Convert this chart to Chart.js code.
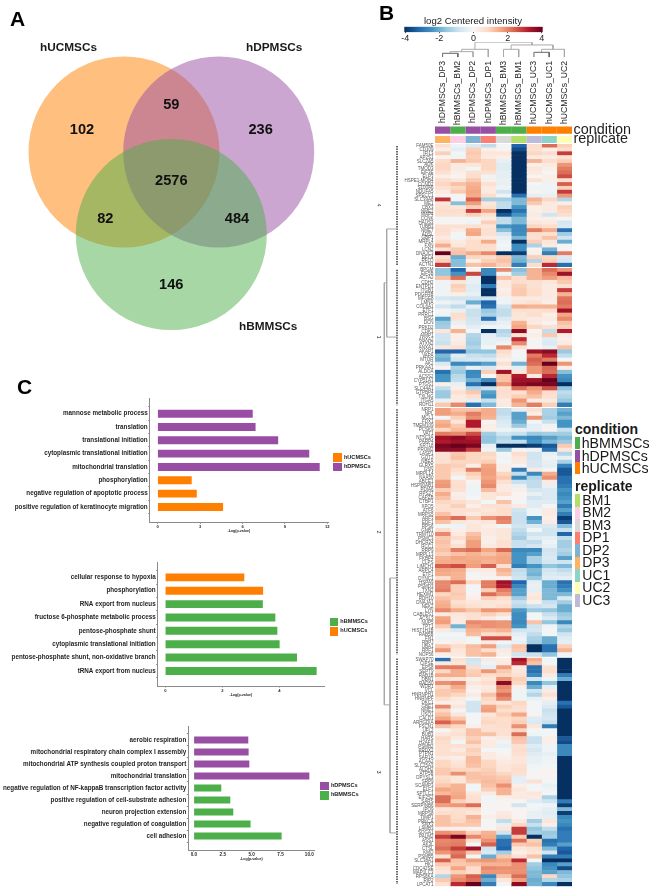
<!DOCTYPE html>
<html>
<head>
<meta charset="utf-8">
<title>MSC proteomics figure</title>
<script src="https://cdn.jsdelivr.net/npm/chart.js@4/dist/chart.umd.js"></script>
<style>
    html, body { margin: 0; padding: 0; background: #fff; }
    #page { position: relative; width: 652px; height: 895px; overflow: hidden; font-family: "Liberation Sans", Arial, sans-serif; color: #1a1a1a; }
    #page canvas { position: absolute; }
    .txt { position: absolute; white-space: nowrap; line-height: 1; }
    .swatch { position: absolute; }
</style>
</head>
<body>
<div id="page"></div>
<script>
// ---- panel A: venn counts ----
const vennNames = ["hUCMSCs", "hDPMSCs", "hBMMSCs"];
const vennCounts = [102, 59, 236, 2576, 82, 484, 146];

// ---- panel C: enrichment bars, top to bottom ----
const bars1Labels = ["mannose metabolic process", "translation", "translational initiation", "cytoplasmic translational initiation", "mitochondrial translation", "phosphorylation", "negative regulation of apoptotic process", "positive regulation of keratinocyte migration"];
const bars1Values = [6.7, 6.9, 8.5, 10.7, 11.44, 2.38, 2.74, 4.6];
const bars1Groups = ["hDPMSCs", "hDPMSCs", "hDPMSCs", "hDPMSCs", "hDPMSCs", "hUCMSCs", "hUCMSCs", "hUCMSCs"];
const bars1Ticks = [0, 3, 6, 9, 12];

const bars2Labels = ["cellular response to hypoxia", "phosphorylation", "RNA export from nucleus", "fructose 6-phosphate metabolic process", "pentose-phosphate shunt", "cytoplasmic translational initiation", "pentose-phosphate shunt, non-oxidative branch", "tRNA export from nucleus"];
const bars2Values = [2.76, 3.42, 3.41, 3.85, 3.92, 4.0, 4.61, 5.3];
const bars2Groups = ["hUCMSCs", "hUCMSCs", "hBMMSCs", "hBMMSCs", "hBMMSCs", "hBMMSCs", "hBMMSCs", "hBMMSCs"];
const bars2Ticks = [0, 2, 4];

const bars3Labels = ["aerobic respiration", "mitochondrial respiratory chain complex I assembly", "mitochondrial ATP synthesis coupled proton transport", "mitochondrial translation", "negative regulation of NF-kappaB transcription factor activity", "positive regulation of cell-substrate adhesion", "neuron projection extension", "negative regulation of coagulation", "cell adhesion"];
const bars3Values = [4.68, 4.71, 4.77, 9.97, 2.34, 3.12, 3.38, 4.88, 7.57];
const bars3Groups = ["hDPMSCs", "hDPMSCs", "hDPMSCs", "hDPMSCs", "hBMMSCs", "hBMMSCs", "hBMMSCs", "hBMMSCs", "hBMMSCs"];
const bars3Ticks = [0, 2.5, 5, 7.5, 10];

// ---- panel B: heatmap columns and annotation ----
const sampleNames = ["hDPMSCs_DP3", "hBMMSCs_BM2", "hDPMSCs_DP2", "hDPMSCs_DP1", "hBMMSCs_BM3", "hBMMSCs_BM1", "hUCMSCs_UC3", "hUCMSCs_UC1", "hUCMSCs_UC2"];
const sampleCondition = ["hDPMSCs", "hBMMSCs", "hDPMSCs", "hDPMSCs", "hBMMSCs", "hBMMSCs", "hUCMSCs", "hUCMSCs", "hUCMSCs"];
const sampleReplicate = ["DP3", "BM2", "DP2", "DP1", "BM3", "BM1", "UC3", "UC1", "UC2"];
const conditionNames = ["hBMMSCs", "hDPMSCs", "hUCMSCs"];
const replicateNames = ["BM1", "BM2", "BM3", "DP1", "DP2", "DP3", "UC1", "UC2", "UC3"];
const colorbarTicks = [-4, -2, 0, 2, 4];

// column tree: left x, left height, right x, right height, top height
const topDendroMerges = [
    [0.5, 0, 1.5, 0, 12],
    [1, 12, 2.5, 0, 17],
    [1.75, 17, 3.5, 0, 24],
    [4.5, 0, 5.5, 0, 24],
    [6.5, 0, 7.5, 0, 15],
    [7, 15, 8.5, 0, 24],
    [5, 24, 7.75, 24, 37],
    [2.625, 24, 6.375, 37, 45]
];
// row tree: [height, row position] polylines
const rowDendroLines = [
    [[1, 21.3], [11.3, 21.3], [11.3, 48.4], [1, 48.4]],
    [[11.3, 34.8], [13.7, 34.8], [13.7, 140.6], [8, 140.6]],
    [[1, 108.8], [8, 108.8], [8, 172.7], [1, 172.7]]
];
const rowDendroTrunks = [
    [[1, 0.5], [1, 30.5]],
    [[1, 31.5], [1, 65.5]],
    [[1, 66.5], [1, 128]],
    [[1, 129], [1, 185.5]]
];

const cluster4Genes = ["FAM50E", "CD109", "IFI13", "AP2S1", "SLC7A5", "ADK", "TMOD3", "EIF3E", "ELP3", "HSPE1-MOB4", "CCND2", "S100A6", "NDUFA5", "SPECC1", "SLC39A8", "ME1", "CBX3", "NME2", "MAP4", "CCNK", "HAUS3", "TUBB3", "NME7", "ADSL", "GBP1", "MRPL4", "FXN", "LCN2", "DNAJC3", "RFC4", "RFLO", "ACTN1"];
const cluster4Rows = [
    [.5, -.2, -.6, -1, -.1, -3.2, .6, 2.2, .8],
    [.2, -.4, .8, .2, .1, -3.6, .5, .2, .6],
    [.8, -.1, .9, .4, .4, -4, .7, .6, 2.8],
    [.1, -.2, .8, .3, .2, -4, .3, .3, .5],
    [.6, 1.2, .9, .7, -.3, -4, 1.2, .6, .8],
    [.7, .3, .4, .7, -.5, -4, .2, .3, 1.6],
    [.7, .3, -.1, .7, -.5, -4, .4, .2, 2],
    [.5, .2, .5, .5, -.4, -4, .3, .1, 2.2],
    [.2, .1, .6, -.2, -.4, -4, .1, .2, 2.6],
    [.6, .4, .9, .2, -.3, -4, .5, .2, .5],
    [.7, 1, 1.2, .5, -.3, -4, -.1, -.2, 2.4],
    [.5, .7, 1.3, .3, -.2, -4, -.2, -.2, .8],
    [.3, .9, 1.4, .3, -.8, -4, .1, -.2, 2.8],
    [.1, -.1, 1.3, .6, -.2, -3, -.4, -.3, 1.6],
    [2.9, .1, 2.4, -1.4, -1.4, -1.8, 1.2, .7, -1.2],
    [.4, -1.7, 1.5, .4, -1, -1.8, .9, .3, .2],
    [.5, .4, .8, .5, -1, -2.4, .2, .3, .8],
    [.6, .6, 2.8, 1.4, -4, -3, .2, .3, .7],
    [.5, .5, .8, .5, -3.4, -2.4, .3, -.8, .6],
    [-.1, -.1, -.1, .3, -1, -1.8, .2, .2, -.1],
    [.1, .1, -.2, .8, -1, -1.8, .4, .3, -.7],
    [.5, .5, .5, .4, -2.4, -2.6, .7, .6, -.6],
    [.6, .3, 1.3, .5, -1.7, -2.6, 2, 1.3, -3],
    [.5, -.1, 1.4, .5, -.7, -2.5, .6, .5, -1.4],
    [.3, -.1, .4, .3, -.3, -1.8, .5, 1, -.8],
    [.6, .3, .6, 1.3, -.2, -4, .8, .4, -2],
    [1.3, .4, .6, .6, -.1, -2.5, -1.3, .3, -.1],
    [.5, .9, .6, .5, -.2, -2.5, .1, -1.9, .1],
    [4, 1, 1.3, 1.8, -4, -3.8, .2, -2.8, 2],
    [.6, -2, .7, .6, .9, -1.8, .8, .7, -.6],
    [.8, -1.7, .2, .8, 1, -1.9, -1.2, .8, -.7],
    [2.8, -1.7, 1, 1.2, .8, -2.8, .6, 3, -3]
];

const cluster1Genes = ["BPGM", "EIF5B", "ACTA2", "CDH2", "ENTPD1", "ITGB1", "PDGFRB", "MFGE8", "LMNA", "COL6A1", "ETF1", "PRRC1", "BSG", "DCN", "PRKD2", "CDK1", "AIMP1", "ANXA2", "ATXN2", "ANXA1", "AKAP1", "VAPA", "MTOR", "AK2", "PRKAA1", "ALDOA", "ACSS2", "CYP51A1", "PTGS1", "SLC44A1", "GTPBP4", "TXLNG", "ITGA5", "RDH11"];
const cluster1Rows = [
    [-1.6, -3.2, .1, -2.6, 1.8, -1.7, 1.2, 2.2, 1.6],
    [-1.6, -2.4, 2.7, -2.6, -.1, -1.4, 1.2, 1.8, 3.4],
    [1, 2.2, -.3, -4, 1, .6, 1.2, 1.5, 1.1],
    [-.2, .4, -.3, -4, .3, .6, .5, .4, .9],
    [-.2, .8, -.5, -2.8, .3, .8, .5, .3, .5],
    [-.2, .7, -.5, -4, .2, .9, .6, .3, 2.8],
    [-.2, .2, -.3, -4, .3, .9, .6, .3, 1.2],
    [-.7, -.8, -.8, -.8, -.2, .3, .3, .3, 2.1],
    [-.2, -.4, -2, -3.2, -.2, .4, .5, .2, 2.2],
    [-.7, -1, -.4, -3, -.8, 1.3, 1.2, 1.2, 2],
    [-.1, -.3, -.9, -1.5, -1, .5, .5, .6, 3.4],
    [-.2, .6, -.9, -1.3, -1, .4, .6, .2, 1.4],
    [-2.2, .5, -.8, -3, -.6, .4, .3, .3, 1.8],
    [-1.5, -.3, -.7, -.6, -.3, 1.2, .3, .1, 1],
    [-1.4, .1, -.4, -.1, -.2, 1.4, .7, .5, .8],
    [.4, 1.2, -.1, -4, -1.2, 3.6, .1, -1, 3.2],
    [-.8, .2, -1.2, -.4, -1, .5, .2, .9, .3],
    [-.8, .2, -1.3, -.3, -.4, 3, .1, -.5, .2],
    [-.9, .3, -1.4, -.3, -.2, 1.8, -.1, -.6, .3],
    [.4, .5, -1.2, -.1, 1.8, .5, .1, -.3, 1],
    [-3.2, -3.2, -1.6, -1.6, .6, -.1, 3.4, 3.6, -1.5],
    [-1.8, -.5, -.9, -1, .4, -.1, 2, 3, -1],
    [-2, -.8, -.7, -.6, .2, -.2, 2.4, 2, -.1],
    [-.6, -2.6, -2.5, -2.2, .5, -1.9, 2.2, 4, 1.6],
    [.1, -1.3, -.3, -.6, .2, -.4, 1.6, 2.3, .2],
    [-3, -1.5, -2.6, .8, 3.4, .4, 1.6, 2.2, -1.7],
    [-2.4, -1.1, -2.5, .1, 1, 3.2, .3, 3, -2.4],
    [-2.4, -1, -1.9, -2.5, 1, 3.4, 3.4, 4, -2.6],
    [.2, -.3, -3, -4, 1.6, 3.6, 3.8, 3.8, -4],
    [-1, .2, -1.2, -.9, .5, 2.2, 1.6, 2.6, -1.6],
    [-1.5, .5, .9, -2.2, .6, .5, 1.3, .6, -1],
    [-1.5, .3, .5, -2.4, .5, .8, 1, .5, -1.2],
    [-.3, .3, -.4, -.9, .3, 1.6, .3, .3, -1.5],
    [.9, 1.8, -3, -1.8, .3, 1.2, 2, .8, -2.8]
];

const cluster2Genes = ["NRP1", "NPL", "MCL1", "FDX1", "TMEM109", "PCSK9", "VAT1", "NT5C3A", "PARP4", "KRT18", "PROM2", "LASP1", "GOT2", "NBEA", "GLRX5", "GSN", "MRPL14", "NAA50", "ABCE1", "HSP90AB1", "PDIA6", "RPS27", "CAPZB", "CTBP1", "XPO5", "ATF6", "MRPS5", "ARF3", "EDF1", "RPS6", "GNB1", "TRMT10", "PSMC3", "DHCR24", "RCC1", "RRP9", "MRPL13", "FKBP4", "CLPS", "LIMCH1", "ARPC4", "ETF1", "DYNC1", "HSPA9", "PSMD3", "TXN2", "HEXIM1", "RDH10", "DNAJA1", "NEK2", "LYN", "CABLES1", "ACSL3", "NUP5", "TPT1", "HIST1H1B", "RAB5B", "FN1", "RBPJ", "UBA1", "RPF1", "NOP56"];
const cluster2Rows = [
    [1.5, 1, 1, 1.3, -1, -.4, .5, -1.3, -1.9],
    [1.5, 1.3, 2, 1.3, -1, -2.2, .2, -1.3, -2.2],
    [-.1, .8, 1.7, 1.2, -.8, -2.2, 1.6, -1.4, -1.8],
    [1.2, .4, 3.2, .1, -.6, -2, -.1, -.9, -2.4],
    [1.4, .9, 3.2, .2, -.5, -1.5, -.4, -.2, -2.4],
    [.7, 1.1, 1, .2, -.2, -.3, -.4, .1, -.9],
    [2, 1.8, 2.6, -1.4, -.8, -.9, -1.5, -1.4, -1.4],
    [3.4, 3.6, 3.2, -1.6, -1.2, -2.4, -2.6, -2.2, -1.8],
    [3.2, 3.4, 3.4, -1.6, -1, -1, -2.4, -1.8, -1.5],
    [3.8, 4, 3.8, -.3, -4, -4, -3.8, -3.4, .9],
    [3.6, 3.6, 2.8, -.2, -1.5, -.1, -.2, -3, .4],
    [.5, .9, .7, .7, -.1, .6, -.8, -.3, -1.2],
    [.5, 1, .7, .6, -.2, .4, -.8, -.2, -.3],
    [.5, .7, .7, .8, -.1, .3, -.7, -.3, -1.3],
    [.9, .8, .2, 1.4, .2, .1, -.7, -.4, -2.7],
    [.9, .6, 2, 1.5, .2, -2.8, .3, -.1, -3.4],
    [.9, .4, .8, 1.5, .7, -1, -2.6, 1.3, -3.4],
    [.9, -.1, .6, 1.4, .9, -2.6, -1.2, 1.7, -3],
    [1.5, .5, .1, 1.6, .5, -.9, -1, .3, -3],
    [1.6, .6, -.2, 1.8, .3, -.3, -1, -.3, -2.8],
    [.8, .5, -.2, 1.1, .3, .2, -.7, -.6, -2.4],
    [1.3, .2, -.2, .4, .5, .1, -.3, -.6, -2.6],
    [1, .3, -.1, .4, .1, .1, -.8, -.6, -2.4],
    [.7, .6, .4, -.1, 1, -.1, -.5, -.5, -2.2],
    [.5, .8, .2, .5, .5, .3, -.5, -.1, -2.8],
    [.6, .5, .5, .4, .6, -.8, -.2, .3, -2.2],
    [1, .5, .3, .5, .6, -.9, -.2, .3, -2.8],
    [1.6, 2.2, .9, 1.7, 2, -.9, -2.4, .2, -3.8],
    [1, .4, .3, .4, 1.8, -.9, -1.9, .3, -3.4],
    [-.1, -.2, .4, .2, -.1, -.8, -.6, -.6, -1.7],
    [.6, .2, .4, .3, .4, -1, -.1, -.8, -.9],
    [1.8, .3, 1, .3, .4, -1.2, -.8, -.8, -3.2],
    [.9, .6, 1.2, .2, .4, -1.4, -.5, -.4, -1],
    [1, .3, 1.5, .2, .5, -.9, -1, -.2, -1.4],
    [.9, .5, 1.5, .3, .5, -.9, -.7, -.3, -1.4],
    [1, 2, 2.2, 1.4, 2.3, -2.6, -2.6, -.8, -1.2],
    [.8, 1, 1.2, 1, 1.3, -2.4, -2.2, -.7, -1.4],
    [1.2, 1.4, 1.3, 1.3, 1.4, -2.4, -1.3, -.6, -2.2],
    [1.3, 1.3, 1.4, 1.2, 1.4, -2.4, -1.3, -.7, -.8],
    [2.4, 2.6, 1.5, 2.4, .5, -2.8, -2.4, -1.6, -1.8],
    [1.4, 1.3, .3, .3, 1.2, -1, -1.8, -.8, -1],
    [1.3, 1.2, -.1, .2, 1, -.9, -1.9, -.6, -.7],
    [.5, 1.2, .1, .1, .1, -.8, -1.5, -.5, -.4],
    [1.8, 2.2, .7, 2, 3.4, -3.2, -.4, -2, -3],
    [1.8, .8, -.1, 2, 3.2, -2.6, -.3, -2, -2.8],
    [2, .8, -.1, .8, 2, -2.2, -.4, -1.8, -2.4],
    [.7, .9, .1, 2.2, 1.6, -2.2, .3, -1.8, -1.8],
    [1, .8, .2, .8, .6, -1.4, .4, -1.8, -.6],
    [1.2, .5, .4, .4, .4, -.9, .2, -.9, -1.4],
    [1.3, .7, .5, .4, .6, -1.1, -.9, -.7, -2],
    [1.8, 1.3, 1, 1.6, 1.5, -2.3, -1.5, -1.6, -2],
    [.3, .4, .5, .8, .5, -2.5, -.1, -.9, -1.5],
    [1.4, .3, .5, .3, -.1, -2.5, -.1, -.6, -1.3],
    [1.5, .3, 1.8, 1.7, 1.6, -2.6, 1, -1.6, -2.6],
    [.9, -1.9, 1.5, 1.7, 1.6, -2.4, -.8, -.2, -1.2],
    [.3, -.6, 1.2, 1.1, 1.2, -.8, -.7, -.1, -1.5],
    [-.1, -.1, 1.1, .6, .7, -.4, -1, -.1, -.8],
    [-.2, -.2, -.1, 2.6, 2.6, -.2, -1.3, -2, -.5],
    [.1, .2, -.1, .3, -.1, -.3, -1.4, -2, -.4],
    [.9, .6, 1.1, 1.5, -.6, 1, -4, -3, .8],
    [1.6, .4, 1, .6, .3, .9, -4, -3, 1.2],
    [.2, .3, 1, 1.2, .2, -.8, -.9, -1.6, -.2]
];

const cluster3Genes = ["SWAP70", "CIPSE", "EPS8", "SEPT9", "RAB1B", "DBN1", "RAD50", "WDR1", "VCL", "HNRNPH1", "HNRNPF", "DKC1", "GBE1", "NME1", "USO1", "CALD1", "ARHGDIA", "FSCN1", "UFL2", "BUB3", "HARS", "H2AFX", "PSMB2", "PRDX2", "PTPN1", "SAR1A", "ACAA2", "SLC25A3", "ALDH2", "ATP5B", "DPYSL3", "SRP9", "SCAMP3", "ELF1", "SPTLC1", "EIF2S2", "SARS", "SERPINB6", "IPO9", "MRPS8", "TIMP1", "PRKCA", "SNX3", "LAMB3", "SOGA1", "PALM2", "ASS1", "AK3L", "CTSL", "KMO", "PSMB5", "SLC38A1", "HK1", "CDC42SE", "MAP1LC3", "RPS6KA", "RIP2", "LPCAT1"];
const cluster3Rows = [
    [-3, .5, -.8, .3, .2, 3.4, 1.3, -.1, -4],
    [.3, .4, -.7, -.2, .3, 3, 1, -.1, -4],
    [2, 2, .6, -.4, 1.5, .3, -3, .5, -4],
    [.7, 1.3, .8, 1.6, .9, .4, -3, .6, -4],
    [1.3, 1.3, .9, .6, .7, .5, -2.6, .3, -2.8],
    [.5, .4, .2, .4, 1.6, .8, -.8, -.2, -2],
    [1.7, 1.9, .4, .6, 3.6, .7, -2.6, -1.6, -4],
    [.7, 1.3, .2, .3, 1.8, .2, -2, -.4, -4],
    [.9, 1, .1, .4, 1.6, -.2, -.8, .3, -4],
    [.9, .7, .3, 1, 2.2, -.2, -1.2, .5, -4],
    [.6, .3, -.1, .7, 1.8, -.2, -.3, .2, -4],
    [.2, .2, -.8, .5, .4, .7, -.1, -.4, -3],
    [1.8, .4, -.8, 1.4, .8, .6, -.1, -.6, -3.4],
    [.7, -.1, -.8, 1.5, .6, .5, -.1, -.9, -4],
    [1, .4, -.1, .4, .8, 1.4, .1, -.8, -4],
    [1.4, .9, -.1, .6, .6, .7, -.5, -.7, -4],
    [2.4, 1.6, -.1, .7, .6, .8, -.6, -.9, -4],
    [1, .7, .2, .5, .6, 1.7, .4, -2.8, -4],
    [-.1, .4, 1, .5, .5, .7, -.1, -.1, -4],
    [.4, .5, 1, 1, .5, 2.2, -.2, -.1, -4],
    [.7, .3, .8, .2, .3, 1, -.9, .2, -3.4],
    [.6, -.1, 1, .3, -.2, .9, -.9, .2, -3.6],
    [.5, .5, .6, .3, -.3, .5, -.5, -.2, -2.6],
    [.5, .3, .8, -.1, -.1, .6, -.7, -.2, -2.6],
    [.5, .5, .7, .3, .1, .5, -.5, -.3, -2.6],
    [.3, .2, 1.1, .3, .2, .4, -.3, -.2, -4],
    [.7, .4, 1.1, .7, .3, .4, -.3, -.2, -4],
    [.7, .5, 1, .7, .4, .5, -.2, -.1, -4],
    [.9, .7, .7, .8, .4, .6, -.1, .1, -4],
    [.9, 1.7, 1, .9, .7, .5, .1, .1, -4],
    [.6, .4, 1, 1, .9, -.4, -.1, .1, -4],
    [.7, .4, .9, 1.1, 1, -.4, .5, -.1, -4],
    [.9, 1.2, -.1, 1, 1.7, .2, -.1, -.3, -4],
    [1.4, 1.2, -.1, .8, 1.2, .4, -.1, -.2, -4],
    [1.1, 1.3, .4, .3, 1.2, .3, .4, -.1, -4],
    [2.2, 1.4, .5, -.1, .2, .3, .3, -1.3, -4],
    [2.2, .8, .5, -.1, .1, .1, -.5, -.8, -2.8],
    [1.5, 1.6, 2.2, .1, .1, -.8, -.1, -.2, -3.8],
    [.4, .5, .6, -.1, .1, .1, -.2, -.4, -1.8],
    [.6, .6, .4, .1, .3, .1, -.3, -.5, -3.8],
    [1, .6, 1.2, .2, .4, .1, -.3, -.4, -2.6],
    [1, .7, 1, -.1, -1, .3, -1.4, .4, -2.4],
    [1, .9, .9, -.1, -.3, .7, -.9, .2, -2.6],
    [.2, .2, .1, .1, .4, 2.8, -1.6, -1, -3],
    [1.7, 1.5, .8, 1.2, -.8, 2.8, -1.4, -1.5, -2.8],
    [2.8, 3.8, 1.8, 1.3, -2.2, .9, -4, -1.4, -2.8],
    [1.8, 1.9, .6, 1.7, -3, 2.2, .8, -3, -2.8],
    [1.9, 2, -.1, 2.4, -3, .9, 1, -2.8, -2.2],
    [2.2, 2.8, 3.4, -.8, -3.2, .4, .5, -1.8, -3.2],
    [1.6, 2, 1, -.6, -1.4, .2, .4, -.8, -3.4],
    [.5, 2.3, -.1, -2, .9, .5, 1, -2.8, -2.8],
    [2.4, 1, 1.5, 1.6, 1.4, 3, -.1, -4, -4],
    [.9, .9, 1, 1.2, 1.2, 1.7, -1.4, -2.6, -2.2],
    [.5, 1.4, .6, 1.8, 1.7, 1.7, -1.6, -2.4, -3.6],
    [.4, .8, .6, 1.6, 1.6, 1.7, -1.8, -2.2, -1.8],
    [-1.2, 1.6, 2.4, -2.6, 1, 2.2, -1.8, .7, -1.6],
    [.9, 1.8, 2.2, -2, .4, 1.5, -2, -1.2, -1.3],
    [.5, 3, 4, -2.8, -.1, 3.6, -1.9, -2.6, -4]
];

// ---- colours ----
const GROUP_COLORS = { hUCMSCs: "#FF7F00", hDPMSCs: "#984EA3", hBMMSCs: "#4DAF4A" };
const VENN_FILLS = { hUCMSCs: "rgba(255,127,0,0.5)", hDPMSCs: "rgba(152,78,163,0.5)", hBMMSCs: "rgba(77,175,74,0.5)" };
const REPLICATE_COLORS = { BM1: "#B3DE69", BM2: "#FCCDE5", BM3: "#D9D9D9", DP1: "#FB8072", DP2: "#80B1D3", DP3: "#FDB462", UC1: "#8DD3C7", UC2: "#FFFFB3", UC3: "#BEBADA" };
const RDBU = [[5, 48, 97], [33, 102, 172], [67, 147, 195], [146, 197, 222], [209, 229, 240], [247, 247, 247], [253, 219, 199], [244, 165, 130], [214, 96, 77], [178, 24, 43], [103, 0, 31]];
const RDBU_STOPS = [-4, -3.2, -2.4, -1.6, -0.8, 0, 0.65, 1.4, 2.4, 3.2, 4];
const INK = "#1f1f1f";
const AXIS_GREY = "#8a8a8a";

const page = document.getElementById("page");

function heatColor(value) {
    const v = Math.max(-4, Math.min(4, value));
    let low = 0;
    while (low < RDBU.length - 2 && v > RDBU_STOPS[low + 1]) low++;
    const t = (v - RDBU_STOPS[low]) / (RDBU_STOPS[low + 1] - RDBU_STOPS[low]);
    const mix = RDBU[low].map((c, i) => Math.round(c + (RDBU[low + 1][i] - c) * t));
    return `rgb(${mix[0]},${mix[1]},${mix[2]})`;
}

function addCanvas(left, top, width, height) {
    const canvas = document.createElement("canvas");
    canvas.width = width;
    canvas.height = height;
    canvas.style.left = left + "px";
    canvas.style.top = top + "px";
    canvas.style.width = width + "px";
    canvas.style.height = height + "px";
    page.appendChild(canvas);
    return canvas;
}

function addText(text, x, y, size, options = {}) {
    const el = document.createElement("div");
    el.className = "txt";
    el.textContent = text;
    el.style.left = x + "px";
    el.style.top = y + "px";
    el.style.fontSize = size + "px";
    if (options.bold) el.style.fontWeight = "bold";
    if (options.color) el.style.color = options.color;
    const shiftX = options.center ? "-50%" : "0";
    el.style.transform = `translate(${shiftX}, -50%)` + (options.rotate ? ` rotate(${options.rotate}deg)` : "");
    page.appendChild(el);
}

function addSwatch(color, x, y, width, height) {
    const el = document.createElement("div");
    el.className = "swatch";
    el.style.cssText = `left:${x}px;top:${y}px;width:${width}px;height:${height}px;background:${color}`;
    page.appendChild(el);
}

// fixes the axis thickness so the plot area lands where the layout wants it
function pinAxis(size) {
    return (scale) => {
        if (scale.isHorizontal()) {
            scale.height = size;
        } else {
            scale.width = size;
        }
        scale.paddingLeft = scale.paddingRight = scale.paddingTop = scale.paddingBottom = 0;
    };
}

const BASE_OPTIONS = {
    responsive: false,
    animation: false,
    plugins: { legend: { display: false }, tooltip: { enabled: false }, title: { display: false } }
};
const NO_GRID = { display: false, drawTicks: false };

// ---- panel A ----
function drawVenn() {
    const centres = [[124, 152], [218.7, 152], [171.3, 234.5]];
    const canvas = addCanvas(0, 0, 340, 370);
    new Chart(canvas, {
        type: "bubble",
        data: {
            datasets: vennNames.map((name, i) => ({
                label: name,
                data: [{ x: centres[i][0], y: centres[i][1], r: 95.5 }],
                backgroundColor: VENN_FILLS[name],
                borderWidth: 0,
                clip: false,
                order: vennNames.length - i // green has to end up on top
            }))
        },
        options: {
            ...BASE_OPTIONS,
            layout: { padding: 0, autoPadding: false },
            scales: {
                x: { type: "linear", min: 0, max: 340, display: false },
                y: { type: "linear", min: 0, max: 370, reverse: true, display: false }
            }
        }
    });

    const namePos = [[40, 48], [246, 48], [239, 327]];
    vennNames.forEach((name, i) => addText(name, namePos[i][0], namePos[i][1], 11.8, { bold: true }));
    const countPos = [[82, 128.7], [171.3, 104], [260.7, 128.7], [171.3, 180.3], [105.3, 218.3], [237, 218.3], [171.3, 283.7]];
    vennCounts.forEach((count, i) => addText(String(count), countPos[i][0], countPos[i][1], 14.6, { bold: true, center: true, color: "#111" }));
}

// ---- panel C ----
function drawBars(labels, values, groups, ticks, box) {
    const plotH = box.bottom - box.top;
    const canvas = addCanvas(0, Math.floor(box.top) - 8, Math.ceil(box.right) + 10, Math.ceil(plotH) + 8 + box.axisHeight + 2);
    const padTop = box.top - (Math.floor(box.top) - 8);
    new Chart(canvas, {
        type: "bar",
        data: {
            datasets: [{
                data: values.map((value, i) => ({ x: value, y: i })),
                backgroundColor: groups.map((g) => GROUP_COLORS[g]),
                barThickness: box.barHeight,
                borderWidth: 0
            }]
        },
        options: {
            ...BASE_OPTIONS,
            indexAxis: "y",
            layout: { padding: { top: padTop, right: canvas.width - box.right, bottom: canvas.height - padTop - plotH - box.axisHeight, left: 0 } },
            scales: {
                y: {
                    type: "linear",
                    reverse: true,
                    min: -box.expand,
                    max: labels.length - 1 + box.expand,
                    afterBuildTicks: (scale) => { scale.ticks = labels.map((_, i) => ({ value: i })); },
                    afterFit: pinAxis(box.left),
                    grid: { drawOnChartArea: false, tickLength: 1.5, color: AXIS_GREY },
                    border: { color: AXIS_GREY, width: 1 },
                    ticks: {
                        autoSkip: false,
                        padding: 0.5,
                        color: INK,
                        font: { family: "Liberation Sans", weight: "bold", size: 6.3 },
                        callback: (value) => labels[value]
                    }
                },
                x: {
                    type: "linear",
                    min: box.xMin,
                    max: box.xMax,
                    afterBuildTicks: (scale) => { scale.ticks = ticks.map((v) => ({ value: v })); },
                    afterFit: pinAxis(box.axisHeight),
                    grid: { drawOnChartArea: false, tickLength: 1.5, color: AXIS_GREY },
                    border: { color: AXIS_GREY, width: 1 },
                    title: {
                        display: true,
                        text: "-Log(p-value)",
                        color: INK,
                        padding: 0,
                        font: { family: "Liberation Sans", weight: "bold", size: 3.6 }
                    },
                    ticks: {
                        autoSkip: false,
                        maxRotation: 0,
                        padding: 0.5,
                        color: INK,
                        font: { family: "Liberation Sans", weight: "bold", size: box.tickSize },
                        callback: (value) => (box.tickFixed ? value.toFixed(1) : String(value))
                    }
                }
            }
        }
    });
}

function drawBarLegend(names, x, y) {
    names.forEach((name, i) => {
        addSwatch(GROUP_COLORS[name], x, y + i * 9.3, 8.4, 8.6);
        addText(name, x + 10.6, y + i * 9.3 + 4.3, 5.6, { bold: true });
    });
}

// ---- panel B ----
function drawTopDendro() {
    const canvas = addCanvas(425, 36, 157, 92);
    new Chart(canvas, {
        type: "scatter",
        data: {
            datasets: topDendroMerges.map((m, i) => ({
                data: [{ x: m[0], y: m[1] }, { x: m[0], y: m[4] }, { x: m[2], y: m[4] }, { x: m[2], y: m[3] }],
                showLine: true,
                pointRadius: 0,
                borderWidth: 1,
                borderColor: i === 0 || i === 4 ? "#666" : "#aaa"
            }))
        },
        options: {
            ...BASE_OPTIONS,
            layout: { padding: { left: 10, right: 10, top: 6.3, bottom: 0 } },
            scales: {
                y: { type: "linear", min: 0, max: 45, display: false },
                x: {
                    type: "linear",
                    min: 0,
                    max: 9,
                    afterBuildTicks: (scale) => { scale.ticks = sampleNames.map((_, i) => ({ value: i + 0.5 })); },
                    afterFit: pinAxis(70.7),
                    grid: NO_GRID,
                    border: { display: false },
                    ticks: {
                        autoSkip: false,
                        minRotation: 90,
                        maxRotation: 90,
                        padding: 3.5,
                        color: INK,
                        font: { family: "Liberation Sans", size: 8.7 },
                        callback: (value) => sampleNames[Math.floor(value)]
                    }
                }
            }
        }
    });
}

function drawAnnotation() {
    const canvas = addCanvas(435, 118, 215, 34);
    new Chart(canvas, {
        type: "bar",
        data: {
            labels: ["condition", "replicate"],
            datasets: sampleNames.map((name, i) => ({
                label: name,
                data: [1, 1],
                backgroundColor: [GROUP_COLORS[sampleCondition[i]], REPLICATE_COLORS[sampleReplicate[i]]],
                borderWidth: 0,
                barPercentage: 0.76,
                categoryPercentage: 1
            }))
        },
        options: {
            ...BASE_OPTIONS,
            indexAxis: "y",
            layout: { padding: { top: 7.5, bottom: 7.9 } },
            scales: {
                x: { stacked: true, min: 0, max: 9, display: false },
                y: {
                    stacked: true,
                    position: "right",
                    afterFit: pinAxis(78),
                    grid: NO_GRID,
                    border: { display: false },
                    ticks: { padding: 1.5, color: INK, autoSkip: false, font: { family: "Liberation Sans", size: 14.4 } }
                }
            }
        }
    });
}

function drawHeatCluster(genes, rows, top, bottom) {
    const canvas = addCanvas(400, Math.floor(top) - 4, 172, Math.ceil(bottom - top) + 8);
    const padTop = top - (Math.floor(top) - 4);
    new Chart(canvas, {
        type: "bar",
        data: {
            labels: genes,
            datasets: sampleNames.map((name, col) => ({
                label: name,
                data: rows.map(() => 1),
                backgroundColor: rows.map((row) => heatColor(row[col])),
                borderWidth: 0,
                barPercentage: 1,
                categoryPercentage: 1
            }))
        },
        options: {
            ...BASE_OPTIONS,
            indexAxis: "y",
            layout: { padding: { top: padTop, bottom: canvas.height - padTop - (bottom - top) } },
            scales: {
                x: { stacked: true, min: 0, max: 9, display: false },
                y: {
                    stacked: true,
                    afterFit: pinAxis(35),
                    grid: NO_GRID,
                    border: { display: false },
                    ticks: { autoSkip: false, padding: 1.5, color: "#555", font: { family: "Liberation Sans", size: 4.5 } }
                }
            }
        }
    });
}

function drawRowDendro() {
    const canvas = addCanvas(380, 140, 22, 750);
    const toPoints = (line) => line.map((p) => ({ x: p[0], y: p[1] }));
    const thin = rowDendroLines.map((line) => ({ data: toPoints(line), showLine: true, pointRadius: 0, borderWidth: 1, borderColor: "#a8a8a8" }));
    const trunks = rowDendroTrunks.map((line) => ({ data: toPoints(line), showLine: true, pointRadius: 0, borderWidth: 1.6, borderDash: [1.5, 1], borderColor: "#444" }));
    new Chart(canvas, {
        type: "scatter",
        data: { datasets: thin.concat(trunks) },
        options: {
            ...BASE_OPTIONS,
            layout: { padding: { left: 2, right: 4, top: 4, bottom: 4 } },
            scales: {
                x: { type: "linear", min: 0, max: 16, reverse: true, display: false },
                y: { type: "linear", min: 0, max: 186, reverse: true, display: false }
            }
        }
    });
    [["4", 205], ["1", 337], ["2", 532], ["3", 772]].forEach((item) => {
        addText(item[0], 378, item[1], 5.5, { center: true, rotate: 90 });
    });
}

function drawColorbar() {
    const canvas = addCanvas(394, 22, 160, 24);
    new Chart(canvas, {
        type: "bar",
        data: {
            labels: [""],
            datasets: [{
                data: [[-4.05, 4.05]],
                borderWidth: 0,
                barPercentage: 1,
                categoryPercentage: 1,
                backgroundColor: (context) => {
                    const area = context.chart.chartArea;
                    if (!area) return "#fff";
                    const gradient = context.chart.ctx.createLinearGradient(area.left, 0, area.right, 0);
                    RDBU.forEach((c, i) => gradient.addColorStop(i / (RDBU.length - 1), `rgb(${c[0]},${c[1]},${c[2]})`));
                    return gradient;
                }
            }]
        },
        options: {
            ...BASE_OPTIONS,
            indexAxis: "y",
            layout: { padding: { left: 10.3, right: 11.3, top: 4.7, bottom: 0 } },
            scales: {
                y: { display: false },
                x: {
                    type: "linear",
                    min: -4.05,
                    max: 4.05,
                    afterBuildTicks: (scale) => { scale.ticks = colorbarTicks.map((v) => ({ value: v })); },
                    afterFit: pinAxis(13.8),
                    grid: { drawOnChartArea: false, tickLength: 1, color: "#555" },
                    border: { display: false },
                    ticks: { autoSkip: false, maxRotation: 0, padding: -0.5, color: INK, font: { family: "Liberation Sans", size: 9 } }
                }
            }
        }
    });
    addText("log2 Centered intensity", 473, 21, 9.6, { center: true });
}

function drawHeatLegend() {
    addText("condition", 575, 429, 14, { bold: true });
    conditionNames.forEach((name, i) => {
        addSwatch(GROUP_COLORS[name], 575, 437.3 + i * 12.2, 5, 12.2);
        addText(name, 581.7, 443.3 + i * 12.4, 14.2);
    });
    addText("replicate", 575, 486, 14, { bold: true });
    replicateNames.forEach((name, i) => {
        addSwatch(REPLICATE_COLORS[name], 575, 494 + i * 12.5, 5, 12.5);
        addText(name, 582.3, 500 + i * 12.45, 14);
    });
}

drawVenn();

drawBars(bars1Labels, bars1Values, bars1Groups, bars1Ticks, { left: 149.7, right: 328, top: 398.3, bottom: 522.3, expand: 0.57, barHeight: 7.3, xMin: -0.57, xMax: 12.05, axisHeight: 11, tickSize: 4.1 });
drawBarLegend(["hUCMSCs", "hDPMSCs"], 333.3, 453.3);
drawBars(bars2Labels, bars2Values, bars2Groups, bars2Ticks, { left: 157.7, right: 324, top: 562.3, bottom: 686, expand: 0.55, barHeight: 7.3, xMin: -0.27, xMax: 5.57, axisHeight: 11, tickSize: 4.1 });
drawBarLegend(["hBMMSCs", "hUCMSCs"], 329.7, 617.7);
drawBars(bars3Labels, bars3Values, bars3Groups, bars3Ticks, { left: 188.3, right: 314.3, top: 726, bottom: 850, expand: 0.59, barHeight: 6.5, xMin: -0.49, xMax: 10.43, axisHeight: 11, tickSize: 4.6, tickFixed: true });
drawBarLegend(["hDPMSCs", "hBMMSCs"], 320.3, 781.7);

drawColorbar();
drawTopDendro();
drawAnnotation();
drawRowDendro();
drawHeatCluster(cluster4Genes, cluster4Rows, 144, 267);
drawHeatCluster(cluster1Genes, cluster1Rows, 268, 407);
drawHeatCluster(cluster2Genes, cluster2Rows, 408, 656.7);
drawHeatCluster(cluster3Genes, cluster3Rows, 657.7, 886.3);
drawHeatLegend();

// panel letters
addText("A", 10, 17.5, 21, { bold: true, color: "#000" });
addText("B", 379, 12, 21, { bold: true, color: "#000" });
addText("C", 17, 386, 21, { bold: true, color: "#000" });
</script>
</body>
</html>
